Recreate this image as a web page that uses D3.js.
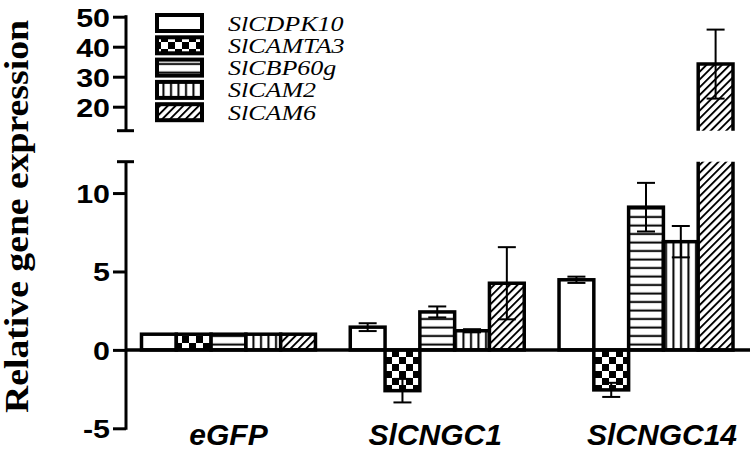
<!DOCTYPE html>
<html>
<head>
<meta charset="utf-8">
<script src="https://cdn.jsdelivr.net/npm/d3@7"></script>
<style>
  html, body { margin: 0; padding: 0; background: #fff; }
  svg { display: block; }
</style>
</head>
<body>
<svg id="chart" width="755" height="450"></svg>
<script>
// ---------------- data ----------------
const groups = ["eGFP", "SlCNGC1", "SlCNGC14"];
const series = ["SlCDPK10", "SlCAMTA3", "SlCBP60g", "SlCAM2", "SlCAM6"];

const valuesCDPK10 = [1.0, 1.45, 4.47];
const valuesCAMTA3 = [1.0, -2.6, -2.55];
const valuesCBP60g = [1.0, 2.42, 9.1];
const valuesCAM2   = [1.0, 1.22, 6.9];
const valuesCAM6   = [1.0, 4.25, 34.2];

const errorsCDPK10 = [0, 0.25, 0.2];
const errorsCAMTA3 = [0, 0.75, 0.45];
const errorsCBP60g = [0, 0.35, 1.55];
const errorsCAM2   = [0, 0.1, 1.0];
const errorsCAM6   = [0, 2.3, 11.5];

const lowerTicks = [-5, 0, 5, 10];
const upperTicks = [20, 30, 40, 50];
const lowerDomain = [-5, 12];
const upperDomain = [12, 50];
const yTitle = "Relative gene expression";

// ---------------- layout ----------------
const svg = d3.select("#chart");
const allValues = [valuesCDPK10, valuesCAMTA3, valuesCBP60g, valuesCAM2, valuesCAM6];
const allErrors = [errorsCDPK10, errorsCAMTA3, errorsCBP60g, errorsCAM2, errorsCAM6];

const axisX = 126;
const x0 = d3.scaleBand().domain(groups).range([141.5, 733]).paddingInner(1 / 6).paddingOuter(0);
const x1 = d3.scaleBand().domain(series).range([0, x0.bandwidth()]);
const yLow = d3.scaleLinear().domain(lowerDomain).range([428.3, 161.7]);
const yUp = d3.scaleLinear().domain(upperDomain).range([130.7, 16.7]);
const breakVal = lowerDomain[1];
const yOf = v => (v > breakVal ? yUp(v) : yLow(v));

// ---------------- patterns ----------------
const defs = svg.append("defs");
const pChk = defs.append("pattern").attr("id", "p-checker").attr("patternUnits", "userSpaceOnUse")
  .attr("width", 14).attr("height", 14);
pChk.append("rect").attr("width", 14).attr("height", 14).attr("fill", "#fff");
pChk.append("rect").attr("width", 7).attr("height", 7).attr("fill", "#000");
pChk.append("rect").attr("x", 7).attr("y", 7).attr("width", 7).attr("height", 7).attr("fill", "#000");
const pH = defs.append("pattern").attr("id", "p-hlines").attr("patternUnits", "userSpaceOnUse")
  .attr("width", 10).attr("height", 8.5);
pH.append("rect").attr("width", 10).attr("height", 8.5).attr("fill", "#fff");
pH.append("rect").attr("y", 3.5).attr("width", 10).attr("height", 2).attr("fill", "#000");
const pV = defs.append("pattern").attr("id", "p-vlines").attr("patternUnits", "userSpaceOnUse")
  .attr("width", 7.5).attr("height", 10).attr("x", 2);
pV.append("rect").attr("width", 7.5).attr("height", 10).attr("fill", "#fff");
pV.append("rect").attr("x", 3).attr("width", 2).attr("height", 10).attr("fill", "#000");
const pD = defs.append("pattern").attr("id", "p-diag").attr("patternUnits", "userSpaceOnUse")
  .attr("width", 5.5).attr("height", 10).attr("patternTransform", "rotate(45)");
pD.append("rect").attr("width", 5.5).attr("height", 10).attr("fill", "#fff");
pD.append("rect").attr("x", 0).attr("width", 1.9).attr("height", 10).attr("fill", "#000");

const fills = ["#fff", "url(#p-checker)", "url(#p-hlines)", "url(#p-vlines)", "url(#p-diag)"];

// ---------------- bars ----------------
const barStroke = 3.5;
const data = [];
groups.forEach((g, gi) => {
  series.forEach((s, si) => {
    data.push({ g, s, si, v: allValues[si][gi], e: allErrors[si][gi] });
  });
});

const barsG = svg.append("g");
data.forEach(d => {
  const x = x0(d.g) + x1(d.s);
  const w = x1.bandwidth();
  if (d.v <= breakVal) {
    const yTop = yLow(Math.max(d.v, 0));
    const yBot = yLow(Math.min(d.v, 0));
    barsG.append("rect").attr("x", x).attr("y", yTop).attr("width", w).attr("height", yBot - yTop)
      .attr("fill", fills[d.si]).attr("stroke", "#000").attr("stroke-width", barStroke);
  } else {
    barsG.append("rect").attr("x", x).attr("y", yLow(breakVal)).attr("width", w)
      .attr("height", yLow(0) - yLow(breakVal)).attr("fill", fills[d.si]);
    barsG.append("rect").attr("x", x).attr("y", yUp(d.v)).attr("width", w)
      .attr("height", yUp(breakVal) - yUp(d.v)).attr("fill", fills[d.si]);
    const p = d3.path();
    p.moveTo(x, yLow(breakVal)); p.lineTo(x, yLow(0)); p.lineTo(x + w, yLow(0)); p.lineTo(x + w, yLow(breakVal));
    p.moveTo(x, yUp(breakVal)); p.lineTo(x, yUp(d.v)); p.lineTo(x + w, yUp(d.v)); p.lineTo(x + w, yUp(breakVal));
    barsG.append("path").attr("d", p.toString()).attr("fill", "none")
      .attr("stroke", "#000").attr("stroke-width", barStroke);
  }
});

// ---------------- error bars ----------------
const errG = svg.append("g").attr("stroke", "#000").attr("stroke-width", 2).attr("fill", "none");
data.filter(d => d.e > 0).forEach(d => {
  const cx = x0(d.g) + x1(d.s) + x1.bandwidth() / 2;
  const yA = yOf(d.v - d.e), yB = yOf(d.v + d.e);
  const cap = 9;
  errG.append("line").attr("x1", cx).attr("x2", cx).attr("y1", yA).attr("y2", yB);
  errG.append("line").attr("x1", cx - cap).attr("x2", cx + cap).attr("y1", yA).attr("y2", yA);
  errG.append("line").attr("x1", cx - cap).attr("x2", cx + cap).attr("y1", yB).attr("y2", yB);
});

// ---------------- zero line ----------------
svg.append("line").attr("x1", axisX).attr("x2", 750).attr("y1", yLow(0)).attr("y2", yLow(0))
  .attr("stroke", "#000").attr("stroke-width", 3.5);

// ---------------- axes ----------------
const tickFont = "'Liberation Sans', Arial, sans-serif";
function styleAxis(g) {
  g.select(".domain").remove();
  g.selectAll(".tick line").attr("stroke", "#000").attr("stroke-width", 3);
  g.selectAll(".tick text").attr("fill", "#000").style("font-family", tickFont)
    .style("font-size", "26px").style("font-weight", "bold").attr("dy", "0.36em");
  g.selectAll(".tick text").each(function () {
    const L = this.getComputedTextLength();
    d3.select(this).attr("textLength", L * 1.17).attr("lengthAdjust", "spacingAndGlyphs");
  });
}
const fmt = d => String(d);
const axLow = svg.append("g").attr("transform", `translate(${axisX},0)`)
  .call(d3.axisLeft(yLow).tickValues(lowerTicks).tickSize(13).tickPadding(3).tickFormat(fmt));
styleAxis(axLow);
const axUp = svg.append("g").attr("transform", `translate(${axisX},0)`)
  .call(d3.axisLeft(yUp).tickValues(upperTicks).tickSize(13).tickPadding(3).tickFormat(fmt));
styleAxis(axUp);

const axisLines = svg.append("g").attr("stroke", "#000").attr("stroke-width", 3).attr("fill", "none");
axisLines.append("line").attr("x1", axisX).attr("x2", axisX).attr("y1", yLow(breakVal)).attr("y2", yLow(lowerDomain[0]) + 1.5);
axisLines.append("line").attr("x1", axisX - 9).attr("x2", axisX + 8).attr("y1", yLow(breakVal)).attr("y2", yLow(breakVal));
axisLines.append("line").attr("x1", axisX).attr("x2", axisX).attr("y1", yUp(upperDomain[1]) - 1.5).attr("y2", yUp(breakVal));
axisLines.append("line").attr("x1", axisX - 9).attr("x2", axisX + 8).attr("y1", yUp(breakVal)).attr("y2", yUp(breakVal));

// x category labels
const labelShift = { "eGFP": 0, "SlCNGC1": -2, "SlCNGC14": 16 };
svg.append("g").selectAll("text").data(groups).join("text")
  .attr("x", g => x0(g) + x0.bandwidth() / 2 + labelShift[g])
  .attr("y", 445)
  .attr("text-anchor", "middle")
  .style("font-family", tickFont).style("font-size", "30px")
  .style("font-weight", "bold").style("font-style", "italic")
  .text(g => g);

// y title
svg.append("text")
  .attr("transform", "translate(28,216.5) rotate(-90)")
  .attr("text-anchor", "middle")
  .attr("textLength", 393).attr("lengthAdjust", "spacingAndGlyphs")
  .style("font-family", "'Liberation Serif', 'Times New Roman', serif")
  .style("font-size", "33px").style("font-weight", "bold")
  .text(yTitle);

// ---------------- legend ----------------
const leg = svg.append("g");
series.forEach((s, i) => {
  const cy = 23 + i * 22.3;
  leg.append("rect").attr("x", 157).attr("y", cy - 8).attr("width", 45).attr("height", 16)
    .attr("fill", fills[i]).attr("stroke", "#000").attr("stroke-width", 4);
  const t = leg.append("text").attr("x", 228).attr("y", 30.5 + i * 22.25)
    .style("font-family", "'Liberation Serif', 'Times New Roman', serif")
    .style("font-size", "20px").style("font-style", "italic")
    .text(s);
  const L = t.node().getComputedTextLength();
  t.attr("textLength", L * 1.3).attr("lengthAdjust", "spacingAndGlyphs");
});
</script>
</body>
</html>
